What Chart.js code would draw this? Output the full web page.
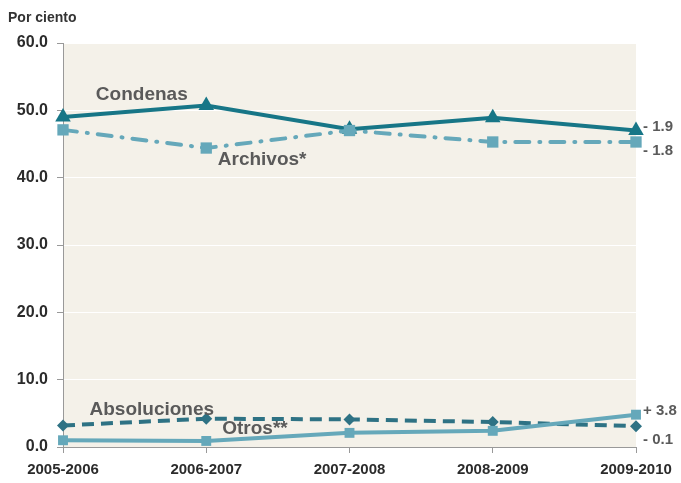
<!DOCTYPE html>
<html><head><meta charset="utf-8">
<script src="https://cdn.jsdelivr.net/npm/chart.js@4/dist/chart.umd.min.js"></script>
<style>html,body{margin:0;padding:0;background:#fff}#w{width:681px;height:483px}</style>
</head><body><div id="w"><canvas id="c"></canvas></div>
<script>
const categories = ["2005-2006","2006-2007","2007-2008","2008-2009","2009-2010"];
const condenas = [49.0, 50.7, 47.2, 48.9, 47.0];
const archivos = [47.1, 44.4, 47.0, 45.3, 45.3];
const absoluciones = [3.2, 4.2, 4.1, 3.7, 3.1];
const otros = [1.0, 0.9, 2.1, 2.4, 4.8];
const yTicks = [0, 10, 20, 30, 40, 50, 60];
const seriesLabels = [
  {text:"Condenas", x:0.55, y:52.3},
  {text:"Archivos*", x:1.39, y:42.6},
  {text:"Absoluciones", x:0.62, y:5.6},
  {text:"Otros**", x:1.34, y:2.7}
];
const changeLabels = [
  {text:"- 1.9", y:47.5},
  {text:"- 1.8", y:44.0},
  {text:"+ 3.8", y:5.3},
  {text:"- 0.1", y:1.0}
];
const FONT = '"Liberation Sans Narrow","Liberation Sans",Arial,sans-serif';

const bgPlugin = {
  id:'bg',
  beforeDraw(chart){
    const {ctx, chartArea:a} = chart;
    ctx.save(); ctx.fillStyle='#f4f1e9';
    ctx.fillRect(a.left, a.top, a.right-a.left, a.bottom-a.top);
    ctx.restore();
  },
  afterDraw(chart){
    const ctx = chart.ctx, xs = chart.scales.x, ys = chart.scales.y;
    ctx.save();
    ctx.fillStyle='#333'; ctx.font='bold 14px '+FONT; ctx.textBaseline='middle'; ctx.textAlign='left';
    ctx.fillText('Por ciento', 8, 18);
    ctx.fillStyle='#5a5a5a'; ctx.font='bold 19px '+FONT; ctx.textAlign='center';
    seriesLabels.forEach(l=>{
      const x0 = xs.getPixelForValue(Math.floor(l.x)), x1 = xs.getPixelForValue(Math.ceil(l.x));
      const px = x0 + (x1-x0)*(l.x-Math.floor(l.x));
      ctx.fillText(l.text, px, ys.getPixelForValue(l.y));
    });
    ctx.font='bold 15px '+FONT; ctx.textAlign='left';
    const xr = xs.getPixelForValue(categories.length-1);
    changeLabels.forEach(l=>{ ctx.fillText(l.text, xr+7, ys.getPixelForValue(l.y)); });
    ctx.restore();
  }
};

new Chart(document.getElementById('c'), {
  type:'line',
  data:{
    labels: categories,
    datasets:[
      {label:'Otros', data:otros, borderColor:'#65a8ba', backgroundColor:'#65a8ba', borderWidth:4,
       pointStyle:'rect', pointRadius:7, pointBorderWidth:0},
      {label:'Absoluciones', data:absoluciones, borderColor:'#2e7284', backgroundColor:'#2e7284', borderWidth:4,
       borderDash:[12,7], pointStyle:'rectRot', pointRadius:6, pointBorderWidth:0},
      {label:'Archivos', data:archivos, borderColor:'#65a8ba', backgroundColor:'#65a8ba', borderWidth:4,
       borderDash:[14,10,1,10], borderCapStyle:'round', pointStyle:'rect', pointRadius:8, pointBorderWidth:0},
      {label:'Condenas', data:condenas, borderColor:'#177687', backgroundColor:'#177687', borderWidth:4,
       pointStyle:'triangle', pointRadius:9, pointBorderWidth:0}
    ]
  },
  options:{
    responsive:true, maintainAspectRatio:false, animation:false,
    layout:{padding:{top:43, right:45, left:0, bottom:0}},
    plugins:{legend:{display:false}, tooltip:{enabled:false}},
    elements:{line:{tension:0}},
    scales:{
      x:{
        offset:false,
        grid:{drawOnChartArea:false, color:'#999', tickLength:6, tickColor:'#999'},
        border:{color:'#999', width:1},
        ticks:{color:'#2b2b2b', font:{family:FONT, size:15, weight:'bold'}, padding:8, maxRotation:0, autoSkip:false},
        afterFit(s){ s.height = 36; }
      },
      y:{
        min:0, max:60,
        afterBuildTicks(s){ s.ticks = yTicks.map(v=>({value:v})); },
        grid:{color:'#ffffff', lineWidth:1, tickLength:6, tickColor:'#999'},
        border:{color:'#999', width:1},
        ticks:{color:'#2b2b2b', font:{family:FONT, size:16, weight:'bold'}, padding:9,
          callback:v=>v.toFixed(1)},
        afterFit(s){ s.width = 63; }
      }
    }
  },
  plugins:[bgPlugin]
});
</script></body></html>
